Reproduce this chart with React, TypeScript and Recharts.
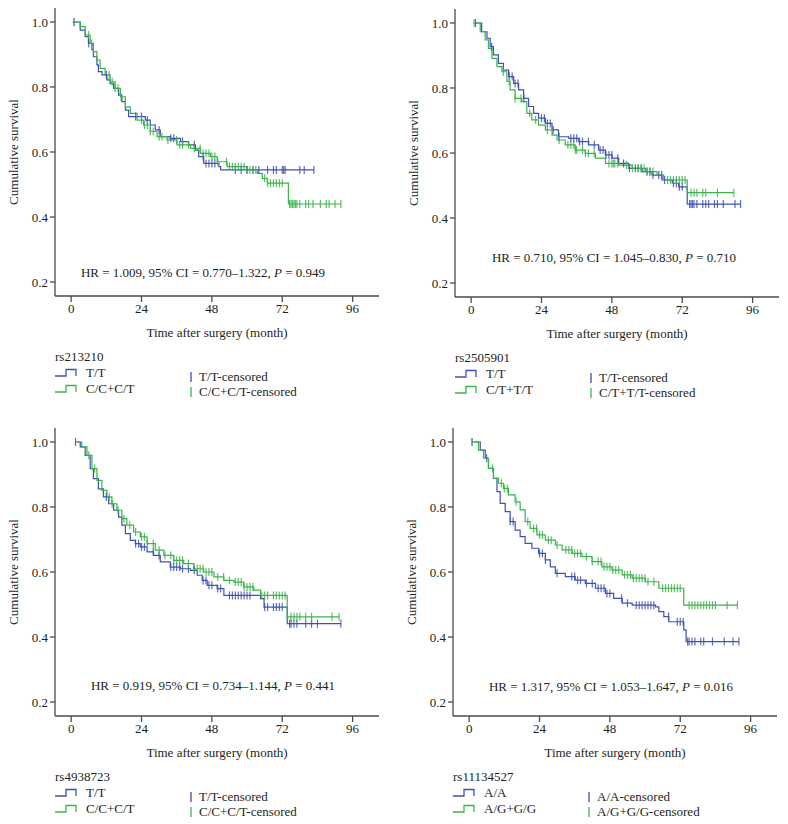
import React from 'react';
import { ComposedChart, Line, Scatter, XAxis, YAxis } from 'recharts';

// Kaplan-Meier step points [month, survival]
const p1Blue = [[0.5, 1], [3.1, 0.975], [4.8, 0.955], [5.9, 0.934], [7.1, 0.914], [7.6, 0.893], [8.8, 0.868], [9.3, 0.847], [10.5, 0.837], [12.2, 0.822], [13.3, 0.81], [14.5, 0.796], [16.2, 0.775], [17.3, 0.755], [18.5, 0.729], [19.6, 0.709], [25.3, 0.698], [27, 0.683], [28.7, 0.668], [30.4, 0.647], [33.8, 0.642], [37.3, 0.632], [40.1, 0.622], [42.4, 0.606], [43.5, 0.586], [45.2, 0.565], [50.4, 0.555], [51, 0.545], [82.8, 0.545]];
const p1Green = [[1, 1], [3.1, 0.986], [4.8, 0.96], [6.5, 0.934], [7.6, 0.909], [8.8, 0.883], [9.9, 0.857], [11.6, 0.837], [13.3, 0.816], [15, 0.796], [16.8, 0.77], [18.5, 0.739], [20.2, 0.719], [22.5, 0.698], [24.7, 0.683], [27, 0.663], [29.3, 0.647], [32.7, 0.637], [36.1, 0.622], [40.7, 0.611], [44.1, 0.596], [47.5, 0.586], [49.8, 0.57], [53.2, 0.555], [60, 0.545], [63.5, 0.534], [65.2, 0.519], [66.9, 0.504], [74.1, 0.44], [92, 0.44]];
const p1BlueCens = [1, 6, 12, 22, 24, 26, 30, 34, 35, 38, 42, 45, 46, 47, 48, 49, 56, 58, 60, 62, 64, 67, 69, 70, 72, 72.5, 73, 78, 79.5, 82.8];
const p1GreenCens = [1, 6, 7, 13, 14, 15, 16, 17, 24, 25, 26, 27, 28, 30, 31, 33, 36, 37, 38, 40, 42, 44, 45, 46, 47, 48, 49, 50, 53, 54, 55, 56, 57, 58, 59, 60, 61, 62, 63, 66, 67, 68, 69, 70, 71, 72, 74.5, 75, 75.5, 76, 76.5, 77, 78, 80, 81, 82.5, 85, 87, 88, 90, 92];

const p2Blue = [[1.4, 1], [3.6, 0.973], [5.4, 0.953], [6.5, 0.927], [7.6, 0.902], [9.3, 0.876], [11, 0.855], [12.8, 0.835], [14.5, 0.814], [16.2, 0.794], [17.9, 0.768], [19.6, 0.743], [21.3, 0.722], [23, 0.707], [25.3, 0.691], [27.6, 0.671], [29.8, 0.65], [33.3, 0.645], [36.7, 0.635], [40.1, 0.625], [43.5, 0.609], [45.8, 0.594], [48.1, 0.584], [50.3, 0.568], [53.8, 0.553], [58.3, 0.543], [61.7, 0.532], [65.1, 0.517], [68.6, 0.507], [70.8, 0.496], [73.7, 0.443], [91.9, 0.443]];
const p2Green = [[0.8, 1], [3.1, 0.973], [4.8, 0.948], [5.9, 0.922], [7.1, 0.891], [8.8, 0.866], [10.5, 0.85], [12.2, 0.82], [13.3, 0.794], [15, 0.768], [17.3, 0.758], [19, 0.722], [20.7, 0.702], [23, 0.686], [25.3, 0.671], [27.6, 0.655], [29.3, 0.64], [32.1, 0.625], [35.5, 0.609], [38.9, 0.599], [42.4, 0.584], [45.8, 0.568], [50.3, 0.563], [54.9, 0.553], [59.5, 0.543], [63.4, 0.532], [65.7, 0.517], [73.7, 0.478], [89.6, 0.478]];
const p2BlueCens = [1.5, 7, 13, 14, 15, 16, 18, 24, 25, 26, 27, 28, 30, 34, 35, 36, 37, 38, 40, 42, 44, 45, 46, 47, 48, 50, 52, 54, 56, 57, 58, 60, 61, 62, 64, 65, 66, 69, 70, 71, 72, 74.5, 75, 75.5, 76, 77, 79, 80, 81, 83, 84, 86, 90, 91.9];
const p2GreenCens = [1, 11, 13, 15, 17, 20, 22, 26, 30, 33, 34, 35, 35.5, 36, 38, 39, 40, 42, 47, 48, 48.5, 49, 50, 53, 55, 57, 58, 59, 60, 61, 62, 67, 68, 69, 70, 71, 72, 73, 75, 76, 77, 79, 80, 84, 89.6];

const p3Blue = [[1.4, 1], [3.1, 0.985], [4.8, 0.959], [6.5, 0.918], [7.6, 0.887], [9.3, 0.856], [11, 0.831], [12.8, 0.81], [14.5, 0.79], [16.2, 0.769], [17.3, 0.744], [18.5, 0.718], [20.2, 0.697], [21.9, 0.687], [23.6, 0.677], [25.9, 0.662], [28.1, 0.651], [30.4, 0.631], [33.8, 0.615], [37.3, 0.61], [40.7, 0.605], [43, 0.59], [44.7, 0.574], [46.4, 0.559], [49.8, 0.549], [52.1, 0.528], [64.6, 0.518], [65.8, 0.492], [73.7, 0.441], [92, 0.441]];
const p3Green = [[2, 1], [3.6, 0.985], [5.4, 0.959], [7.1, 0.918], [8.8, 0.882], [10.5, 0.851], [12.2, 0.831], [13.9, 0.81], [15.6, 0.79], [17.3, 0.764], [19, 0.744], [21.3, 0.723], [23.6, 0.708], [25.9, 0.687], [28.7, 0.667], [31.6, 0.651], [35, 0.636], [38.4, 0.626], [41.8, 0.61], [45.2, 0.6], [48.7, 0.585], [52.1, 0.574], [55.5, 0.569], [58.9, 0.554], [62.3, 0.544], [64.6, 0.528], [73.7, 0.462], [91.4, 0.462]];
const p3BlueCens = [1.5, 12, 22, 23, 24, 25, 28, 30, 34, 35, 36, 37, 38, 40, 42, 45, 46, 47, 48, 50, 51, 54, 55, 56, 57, 58, 59, 60, 61, 66, 67, 69, 70, 71, 72, 74.5, 75, 76, 77, 80, 82, 84, 92];
const p3GreenCens = [6, 8, 13, 14, 16, 18, 20, 22, 24, 25, 26, 28, 30, 32, 34, 35, 36, 37, 38, 40, 42, 43, 44, 45, 46, 47, 48, 50, 52, 54, 56, 57, 58, 59, 60, 61, 62, 65, 66, 67, 69, 70, 71, 72, 73, 75, 76, 77, 78, 80, 82, 89, 91.4];

const p4Blue = [[1.5, 1], [3.8, 0.975], [5.5, 0.95], [6.6, 0.919], [8.3, 0.888], [9.5, 0.847], [10.6, 0.811], [12.3, 0.786], [14, 0.755], [15.7, 0.729], [17.4, 0.709], [19.1, 0.688], [21.4, 0.673], [23.7, 0.657], [26, 0.637], [27.7, 0.616], [29.4, 0.596], [32.8, 0.586], [36.2, 0.575], [39.6, 0.565], [43.1, 0.55], [46.5, 0.534], [49.3, 0.519], [52.2, 0.504], [55.6, 0.498], [63.6, 0.493], [64.7, 0.478], [66.4, 0.463], [68.1, 0.447], [73.2, 0.422], [74, 0.386], [92, 0.386]];
const p4Green = [[1, 1], [3.2, 0.975], [4.9, 0.95], [6.6, 0.919], [8.3, 0.888], [10, 0.873], [11.7, 0.857], [13.4, 0.837], [15.7, 0.816], [17.4, 0.791], [19.1, 0.755], [20.8, 0.734], [23.1, 0.714], [26, 0.698], [29.4, 0.683], [31.7, 0.668], [35.1, 0.657], [38.5, 0.647], [41.9, 0.632], [45.3, 0.616], [48.7, 0.606], [52.2, 0.591], [55.6, 0.581], [60.1, 0.57], [64.7, 0.55], [73.2, 0.498], [91.5, 0.498]];
const p4BlueCens = [1, 6, 14, 15, 24, 25, 26, 30, 35, 36, 37, 38, 40, 42, 44, 45, 46, 47, 48, 52, 54, 57, 58, 59, 60, 61, 62, 63, 68, 71, 72, 73, 74.5, 75, 76, 77, 79, 80, 83, 87, 90, 92];
const p4GreenCens = [1, 8, 11, 12, 13, 16, 20, 22, 23, 24, 25, 27, 28, 30, 33, 34, 35, 36, 37, 38, 40, 42, 44, 45, 46, 47, 48, 49, 50, 51, 53, 54, 55, 56, 57, 58, 59, 60, 61, 63, 66, 67, 68, 69, 70, 71, 72, 75, 76, 77, 78, 79, 80, 81, 82, 83, 84, 88, 91.5];

const xTicks = [0, 24, 48, 72, 96];
const yTicks = [0.2, 0.4, 0.6, 0.8, 1.0];

const BLUE = '#3f51b5';
const GREEN = '#3cb44b';
const BLUE_C = '#7f8ad0';
const GREEN_C = '#7fd08a';
const AXIS = '#4a4a4a';
const FONT = '"Liberation Serif", "DejaVu Serif", serif';

const toRows = (pts: number[][]) => pts.map(([t, s]) => ({ t, s }));

// censor marks sit on the step curve at their time
const onCurve = (pts: number[][], times: number[]) =>
  times.map((t) => {
    let s = pts[0][1];
    for (const p of pts) if (p[0] <= t) s = p[1];
    return { t, s };
  });

const tick = (color: string) => (props: any) => {
  const { cx, cy } = props;
  return <line x1={cx} x2={cx} y1={cy - 4} y2={cy + 4} stroke={color} strokeOpacity={0.85} strokeWidth={1.2} />;
};

const StepIcon = ({ color }: { color: string }) => (
  <svg width={23} height={9} style={{ display: 'block' }}>
    <path d="M0 8 H11 V1.5 H21 V8" fill="none" stroke={color} strokeWidth={1.3} />
  </svg>
);

type PanelProps = {
  x: number;
  y: number;
  snp: string;
  labels: string[];
  blue: number[][];
  green: number[][];
  blueCens: number[];
  greenCens: number[];
  hr: string[];
  hrX: number;
  hrY: number;
};

function Panel({ x, y, snp, labels, blue, green, blueCens, greenCens, hr, hrX, hrY }: PanelProps) {
  const txt: React.CSSProperties = { position: 'absolute', fontFamily: FONT, fontSize: 13, color: '#231f20', whiteSpace: 'nowrap', lineHeight: '16px' };
  return (
    <div style={{ position: 'absolute', left: x, top: y, width: 394, height: 412 }}>
      <ComposedChart width={394} height={345} margin={{ top: 8, right: 15, left: 0, bottom: 0 }}>
        <XAxis
          dataKey="t"
          type="number"
          domain={[-5.5, 105]}
          ticks={xTicks}
          allowDataOverflow
          height={49}
          stroke={AXIS}
          strokeWidth={1.3}
          tickSize={6}
          tick={{ fill: '#231f20', fontSize: 13, fontFamily: FONT }}
        />
        <YAxis
          dataKey="s"
          type="number"
          domain={[0.157, 1.043]}
          ticks={yTicks}
          allowDataOverflow
          width={55}
          stroke={AXIS}
          strokeWidth={1.3}
          tickSize={5}
          tickFormatter={(v: number) => v.toFixed(1)}
          tick={{ fill: '#231f20', fontSize: 13, fontFamily: FONT }}
        />
        <Line data={toRows(blue)} dataKey="s" type="stepAfter" stroke={BLUE} strokeWidth={1.2} dot={false} isAnimationActive={false} />
        <Line data={toRows(green)} dataKey="s" type="stepAfter" stroke={GREEN} strokeWidth={1.2} dot={false} isAnimationActive={false} />
        <Scatter data={onCurve(blue, blueCens)} dataKey="s" shape={tick(BLUE)} isAnimationActive={false} />
        <Scatter data={onCurve(green, greenCens)} dataKey="s" shape={tick(GREEN)} isAnimationActive={false} />
      </ComposedChart>

      <div style={{ ...txt, left: 14, top: 152, transform: 'translate(-50%, -50%) rotate(-90deg)' }}>Cumulative survival</div>
      <div style={{ ...txt, left: 217, top: 333, transform: 'translate(-50%, -50%)' }}>Time after surgery (month)</div>
      <div style={{ ...txt, left: hrX, top: hrY, transform: 'translate(-50%, -50%)' }}>
        {hr[0]}<i>P</i>{hr[1]}
      </div>

      <div style={{ ...txt, left: 55, top: 349 }}>{snp}</div>
      <div style={{ position: 'absolute', left: 55, top: 368 }}><StepIcon color={BLUE} /></div>
      <div style={{ ...txt, left: 86, top: 365 }}>{labels[0]}</div>
      <div style={{ position: 'absolute', left: 55, top: 384 }}><StepIcon color={GREEN} /></div>
      <div style={{ ...txt, left: 86, top: 381 }}>{labels[1]}</div>
      <div style={{ position: 'absolute', left: 190, top: 372, width: 1.5, height: 10, background: BLUE_C }} />
      <div style={{ ...txt, left: 199, top: 369 }}>{labels[0]}-censored</div>
      <div style={{ position: 'absolute', left: 190, top: 387, width: 1.5, height: 10, background: GREEN_C }} />
      <div style={{ ...txt, left: 199, top: 384 }}>{labels[1]}-censored</div>
    </div>
  );
}

export default function App() {
  return (
    <div style={{ position: 'absolute', left: 0, top: 0, width: 788, height: 824, background: '#fff' }}>
      <Panel x={0} y={0} snp="rs213210" labels={['T/T', 'C/C+C/T']} blue={p1Blue} green={p1Green} blueCens={p1BlueCens} greenCens={p1GreenCens}
        hr={['HR = 1.009, 95% CI = 0.770–1.322, ', ' = 0.949']} hrX={203} hrY={273} />
      <Panel x={400} y={1} snp="rs2505901" labels={['T/T', 'C/T+T/T']} blue={p2Blue} green={p2Green} blueCens={p2BlueCens} greenCens={p2GreenCens}
        hr={['HR = 0.710, 95% CI = 1.045–0.830, ', ' = 0.710']} hrX={214} hrY={257} />
      <Panel x={0} y={420} snp="rs4938723" labels={['T/T', 'C/C+C/T']} blue={p3Blue} green={p3Green} blueCens={p3BlueCens} greenCens={p3GreenCens}
        hr={['HR = 0.919, 95% CI = 0.734–1.144, ', ' = 0.441']} hrX={213} hrY={266} />
      <Panel x={398} y={420} snp="rs11134527" labels={['A/A', 'A/G+G/G']} blue={p4Blue} green={p4Green} blueCens={p4BlueCens} greenCens={p4GreenCens}
        hr={['HR = 1.317, 95% CI = 1.053–1.647, ', ' = 0.016']} hrX={213} hrY={267} />
    </div>
  );
}
